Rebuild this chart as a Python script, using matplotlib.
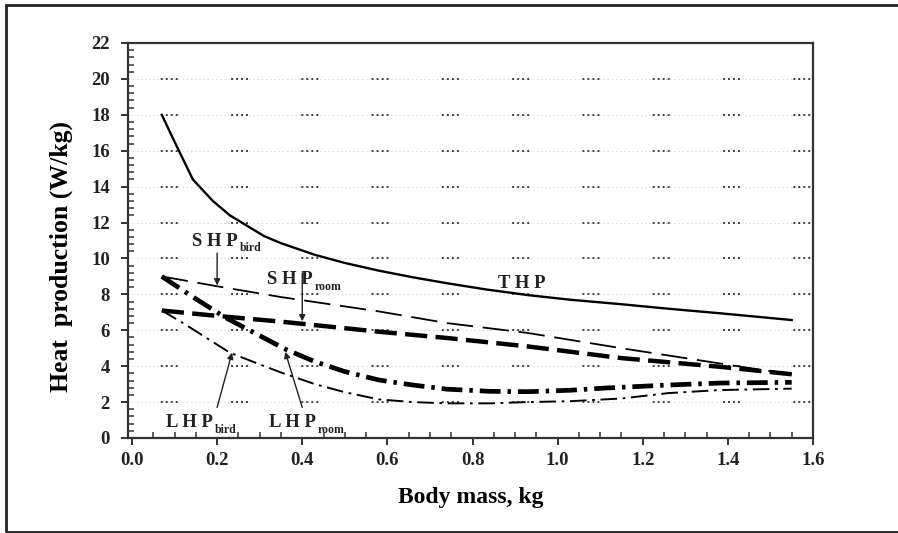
import matplotlib
matplotlib.use("Agg")
import matplotlib.pyplot as plt
from matplotlib.ticker import MultipleLocator, FixedLocator
from matplotlib.patches import Rectangle

plt.rcParams['font.family'] = ['Liberation Serif', 'DejaVu Serif']
plt.rcParams['font.weight'] = 'bold'
plt.rcParams['lines.scale_dashes'] = False

# ---- data ----
thp_x = [0.07, 0.10, 0.143, 0.19, 0.23, 0.31, 0.35, 0.43, 0.50, 0.58, 0.66, 0.74, 0.83, 0.93, 1.03, 1.15, 1.26, 1.38, 1.47, 1.55]
thp_y = [18.0, 16.5, 14.4, 13.2, 12.4, 11.25, 10.85, 10.2, 9.75, 9.32, 8.95, 8.62, 8.28, 7.96, 7.7, 7.45, 7.2, 6.95, 6.75, 6.57]

shp_bird_x = [0.07, 0.20, 0.35, 0.58, 0.74, 0.93, 1.15, 1.30, 1.45, 1.55]
shp_bird_y = [9.0, 8.45, 7.85, 7.05, 6.4, 5.85, 5.0, 4.45, 3.9, 3.55]

shp_room_x = [0.07, 0.20, 0.35, 0.58, 0.74, 0.93, 1.15, 1.38, 1.55]
shp_room_y = [7.1, 6.8, 6.48, 5.92, 5.57, 5.1, 4.45, 3.97, 3.55]

lhp_room_x = [0.07, 0.14, 0.22, 0.36, 0.43, 0.50, 0.58, 0.66, 0.74, 0.84, 0.93, 1.03, 1.11, 1.26, 1.38, 1.55]
lhp_room_y = [9.0, 7.9, 6.7, 4.95, 4.25, 3.7, 3.23, 2.95, 2.72, 2.6, 2.58, 2.66, 2.78, 2.95, 3.06, 3.1]

lhp_bird_x = [0.07, 0.12, 0.18, 0.23, 0.30, 0.35, 0.43, 0.50, 0.58, 0.66, 0.74, 0.84, 0.93, 1.03, 1.15, 1.26, 1.38, 1.55]
lhp_bird_y = [7.1, 6.4, 5.5, 4.75, 4.1, 3.65, 3.0, 2.55, 2.15, 2.0, 1.93, 1.93, 2.0, 2.05, 2.2, 2.5, 2.67, 2.75]

x_ticks = [0.0, 0.2, 0.4, 0.6, 0.8, 1.0, 1.2, 1.4, 1.6]
x_tick_labels = ['0.0', '0.2', '0.4', '0.6', '0.8', '1.0', '1.2', '1.4', '1.6']
y_ticks = [0, 2, 4, 6, 8, 10, 12, 14, 16, 18, 20, 22]
y_tick_labels = ['0', '2', '4', '6', '8', '10', '12', '14', '16', '18', '20', '22']
grid_levels = [2, 4, 6, 8, 10, 12, 14, 16, 18, 20]

# ---- figure ----
fig = plt.figure(figsize=(8.98, 5.33), dpi=100)
fig.patches.append(Rectangle((6/898, 1 - 532/533), 1.2, 527/533, transform=fig.transFigure,
                             fill=False, edgecolor='#222222', linewidth=2.0, zorder=0))
ax = fig.add_axes([128/898, 1 - 438/533, (813 - 128)/898, (438 - 43)/533])
ax.set_xlim(-0.0094, 1.6)
ax.set_ylim(0, 22)

# grid: faint dotted line + darker dot groups
for g in grid_levels:
    ax.axhline(g, color='#d8d8d8', lw=0.7, ls=(0, (1, 2)), zorder=1)
    ax.axhline(g, color='#333333', lw=1.3,
               ls=(27.0, (1.4, 2.2, 1.4, 2.2, 1.4, 2.2, 1.4, 38.4)), zorder=1)

ax.plot(thp_x, thp_y, color='black', lw=1.7, zorder=3)
ax.plot(shp_bird_x, shp_bird_y, color='black', lw=1.3, ls=(0, (19, 7)), zorder=3)
ax.plot(shp_room_x, shp_room_y, color='black', lw=3.2, ls=(0, (16, 6)), zorder=3)
ax.plot(lhp_room_x, lhp_room_y, color='black', lw=3.4, ls=(0, (15, 5, 2.5, 5)), zorder=3)
ax.plot(lhp_bird_x, lhp_bird_y, color='black', lw=1.4, ls=(0, (12, 4, 2, 4)), zorder=3)

# ticks
ax.xaxis.set_major_locator(FixedLocator(x_ticks))
ax.set_xticklabels(x_tick_labels)
ax.xaxis.set_minor_locator(MultipleLocator(0.05))
ax.yaxis.set_major_locator(FixedLocator(y_ticks))
ax.set_yticklabels(y_tick_labels)
ax.yaxis.set_minor_locator(MultipleLocator(0.4))
ax.tick_params(axis='both', which='major', direction='out', length=5, width=1.3,
               labelsize=13.5, colors='#222222')
ax.tick_params(axis='x', which='major', pad=5)
ax.tick_params(axis='y', which='major', pad=8)
ax.tick_params(axis='both', which='minor', direction='in', length=4, width=1.1, color='#333333')
for lab in ax.get_xticklabels() + ax.get_yticklabels():
    lab.set_fontweight('bold')
for s in ax.spines.values():
    s.set_linewidth(1.6)
    s.set_color('#333333')

ax.set_xlabel('Body mass, kg', fontsize=17, fontweight='bold', labelpad=13)
ax.set_ylabel('Heat  production (W/kg)', fontsize=18.5, fontweight='bold')
ax.yaxis.set_label_coords(-0.08, 0.46)

# labels
def lab(x, y, main, sub):
    t = ax.text(x, y, main, fontsize=13.5, fontweight='bold', color='#222222', zorder=4)
    ax.annotate(sub, xy=(1, 0), xycoords=t, xytext=(1.5, -1), textcoords='offset points',
                fontsize=8.5, fontweight='bold', color='#222222', va='baseline')

lab(0.141, 10.7, 'S H P', 'bird')
lab(0.317, 8.55, 'S H P', 'room')
lab(0.08, 0.6, 'L H P', 'bird')
lab(0.322, 0.6, 'L H P', 'room')
ax.text(0.86, 8.35, 'T H P', fontsize=13.5, fontweight='bold', color='#222222')

arr = dict(arrowstyle='-|>', color='#222222', lw=1.0, mutation_scale=9, shrinkA=0, shrinkB=0)
ax.annotate('', xy=(0.2, 8.5), xytext=(0.2, 10.3), arrowprops=arr)
ax.annotate('', xy=(0.4, 6.5), xytext=(0.4, 9.2), arrowprops=arr)
ax.annotate('', xy=(0.235, 4.75), xytext=(0.2, 1.7), arrowprops=arr)
ax.annotate('', xy=(0.36, 4.8), xytext=(0.4, 1.7), arrowprops=arr)

fig.savefig('out.png', dpi=100)
